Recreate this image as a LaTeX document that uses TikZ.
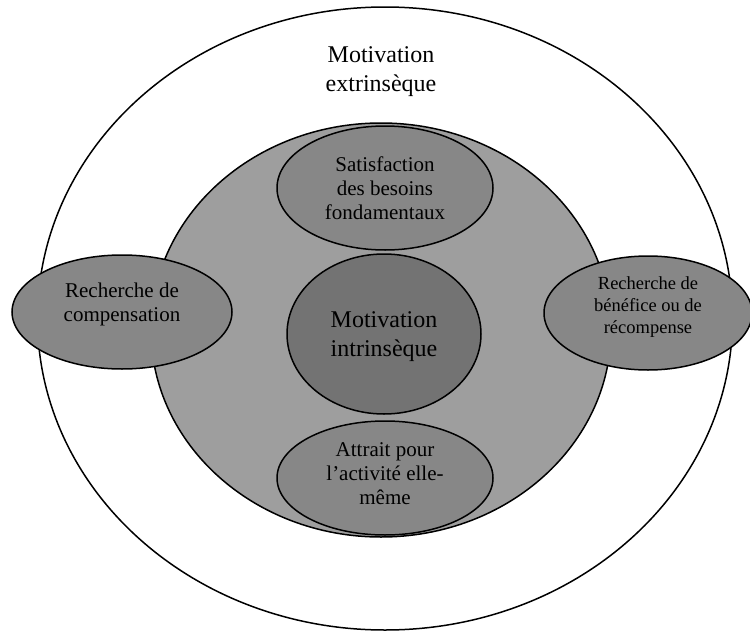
\documentclass[tikz,border=0pt]{standalone}
\usepackage{fontspec}
\setmainfont{Liberation Serif}
\usetikzlibrary{shapes.geometric}
\definecolor{ringgray}{gray}{0.62}
\definecolor{lobegray}{gray}{0.53}
\definecolor{coregray}{gray}{0.45}
\tikzset{
  oval/.style={ellipse, draw=black, line width=1.5pt, inner sep=0pt},
  lobe/.style={oval, fill=lobegray},
  bigtext/.style={font=\fontsize{24}{29}\selectfont, align=center},
  midtext/.style={font=\fontsize{21}{24}\selectfont, align=center},
  smalltext/.style={font=\fontsize{18.5}{22}\selectfont, align=center},
}
\begin{document}
\begin{tikzpicture}[x=1pt, y=-1pt]
  \useasboundingbox (0,0) rectangle (750,632);
  % outer ring: extrinsic motivation
  \node[oval, fill=white, minimum width=695pt, minimum height=623pt] (outer) at (385,318.5) {};
  \node[bigtext, anchor=base] (outerlbl) at (381,91) {Motivation\\extrinsèque};
  % inner grey disc
  \node[oval, fill=ringgray, minimum width=460pt, minimum height=414pt] (inner) at (381,330) {};
  % side lobes
  \node[lobe, minimum width=220pt, minimum height=114pt] (left) at (122,312) {};
  \node[midtext] (leftlbl) at ([yshift=8]left.center) {Recherche de\\compensation};
  \node[lobe, minimum width=208pt, minimum height=114pt] (right) at (648,313) {};
  \node[smalltext] (rightlbl) at ([yshift=6]right.center) {Recherche de\\bénéfice ou de\\récompense};
  % top and bottom lobes
  \node[lobe, minimum width=216pt, minimum height=124pt] (top) at (385,188) {};
  \node[midtext] (toplbl) at (top.center) {Satisfaction\\des besoins\\fondamentaux};
  \node[lobe, minimum width=216pt, minimum height=114pt] (bottom) at (385,478) {};
  \node[midtext] (bottomlbl) at ([yshift=4]bottom.center) {Attrait pour\\l’activité elle-\\même};
  % core: intrinsic motivation
  \node[oval, fill=coregray, minimum width=194pt, minimum height=160pt] (core) at (384,334) {};
  \node[bigtext] (corelbl) at ([yshift=-3]core.center) {Motivation\\intrinsèque};
\end{tikzpicture}
\end{document}
